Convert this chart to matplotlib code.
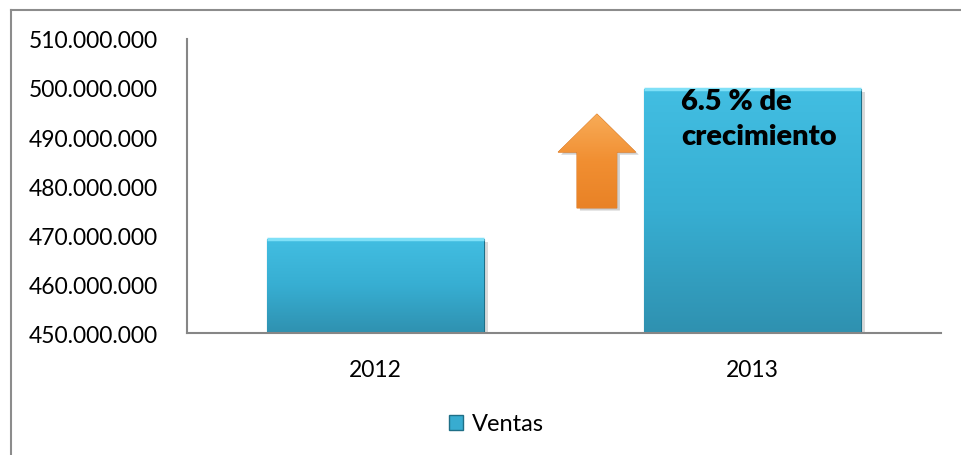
import numpy as np
from matplotlib import pyplot as plt
from matplotlib.patches import Polygon, Patch
from matplotlib.lines import Line2D
from matplotlib.colors import LinearSegmentedColormap
from matplotlib.ticker import FuncFormatter

plt.rcParams['font.family'] = ['Lato', 'DejaVu Sans']

years = ['2012', '2013']
ventas = [469_200_000, 499_700_000]
growth_label = '6.5 % de\ncrecimiento'
y_ticks = [450_000_000, 460_000_000, 470_000_000, 480_000_000,
           490_000_000, 500_000_000, 510_000_000]


def thousands(v, pos):
    return f"{v:,.0f}".replace(",", ".")


def gradient_fill(ax, patch, colors):
    # paint a vertical gradient image clipped to the patch outline
    if hasattr(patch, 'get_width'):
        bb = patch.get_path().transformed(patch.get_patch_transform()).get_extents()
    else:
        bb = patch.get_path().get_extents()
    cmap = LinearSegmentedColormap.from_list('g', colors)
    grad = np.linspace(1, 0, 256).reshape(-1, 1)
    im = ax.imshow(grad, cmap=cmap, aspect='auto',
                   extent=[bb.x0, bb.x1, bb.y0, bb.y1], origin='upper',
                   zorder=patch.get_zorder() + 0.1, interpolation='bicubic')
    im.set_clip_path(patch)
    return im


fig = plt.figure(figsize=(9.62, 4.56), dpi=100)
ax = fig.add_axes([0.1944, 0.2675, 0.978 - 0.1944, 0.9123 - 0.2675])

x = np.arange(len(years))
width = 0.575

# soft shadow behind the bars
ax.bar(x + 0.012, np.array(ventas) - 450_000_000, width, bottom=450_000_000 - 600_000,
       color='#d9d9d9', zorder=1, linewidth=0)
bars = ax.bar(x, np.array(ventas) - 450_000_000, width, bottom=450_000_000,
              color='#38acd0', edgecolor='#1f6f87', linewidth=0.8, zorder=2)
for b in bars:
    gradient_fill(ax, b, ['#2f91b0', '#37aed2', '#42bee2'])

# bevel highlight along the top edge of each bar
for b, v in zip(bars, ventas):
    ax.plot([b.get_x(), b.get_x() + b.get_width()], [v, v], color='#7fe0f7',
            lw=2.5, zorder=3, solid_capstyle='butt')

# orange growth arrow next to the 2013 bar
ax_c = 0.5875
head_w, shaft_w = 0.103, 0.053
tip, base, foot = 494_700_000, 486_900_000, 475_500_000
arrow_pts = [(ax_c, tip), (ax_c + head_w, base), (ax_c + shaft_w, base),
             (ax_c + shaft_w, foot), (ax_c - shaft_w, foot), (ax_c - shaft_w, base),
             (ax_c - head_w, base)]
shadow = Polygon([(px + 0.008, py - 500_000) for px, py in arrow_pts],
                 closed=True, facecolor='#cfcfcf', edgecolor='none', zorder=2)
ax.add_patch(shadow)
arrow = Polygon(arrow_pts, closed=True, facecolor='#f29436', edgecolor='#d9731c',
                linewidth=0.6, zorder=3)
ax.add_patch(arrow)
gradient_fill(ax, arrow, ['#e98226', '#f18f32', '#f8ac58'])

ax.text(0.81, 500_000_000, growth_label, fontsize=21, fontweight='heavy',
        va='top', ha='left', color='black', linespacing=1.45, zorder=5)

ax.set_xlim(-0.5, 1.5)
ax.set_ylim(450_000_000, 510_000_000)
ax.set_xticks(x)
ax.set_xticklabels(years)
ax.set_yticks(y_ticks)
ax.yaxis.set_major_formatter(FuncFormatter(thousands))
ax.tick_params(axis='both', length=0, labelsize=16.5, colors='black')
ax.tick_params(axis='y', pad=21)
ax.tick_params(axis='x', pad=19)
for side in ['top', 'right']:
    ax.spines[side].set_visible(False)
for side in ['left', 'bottom']:
    ax.spines[side].set_color('#868686')
    ax.spines[side].set_linewidth(1.5)

fig.legend(handles=[Patch(facecolor='#38acd0', edgecolor='#1f6f87', label='Ventas')],
           loc='center', bbox_to_anchor=(0.516, 1 - 425 / 456), frameon=False,
           fontsize=17, handlelength=0.6, handleheight=0.6, handletextpad=0.35)

# chart area frame
fig.add_artist(Line2D([10.5 / 962, 10.5 / 962], [0, 1 - 10.5 / 456],
                      transform=fig.transFigure, color='#8c8c8c', lw=1.5))
fig.add_artist(Line2D([10.5 / 962, 1], [1 - 10.5 / 456, 1 - 10.5 / 456],
                      transform=fig.transFigure, color='#8c8c8c', lw=1.5))

fig.savefig('out.png', dpi=100)
